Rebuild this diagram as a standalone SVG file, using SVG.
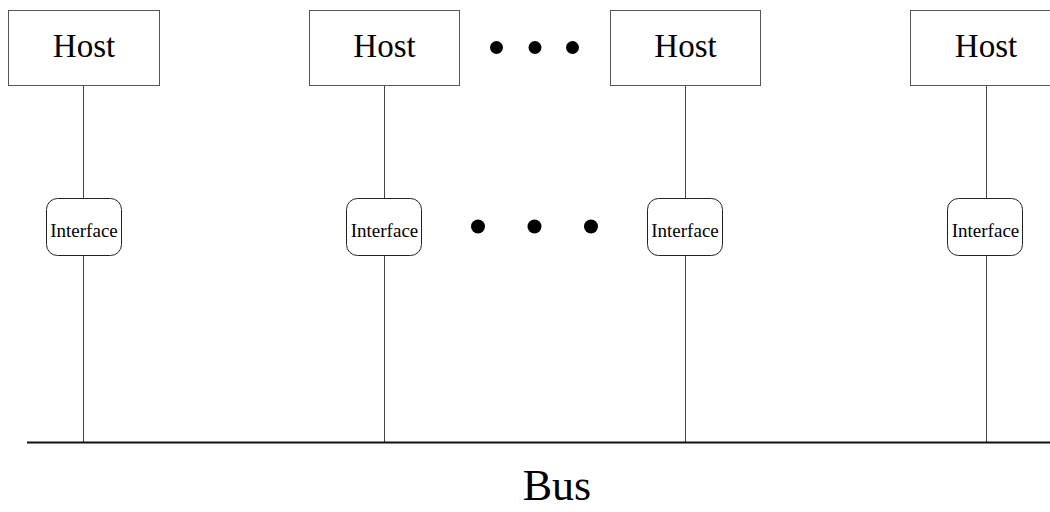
<svg xmlns="http://www.w3.org/2000/svg" width="1050" height="512" viewBox="0 0 1050 512">
<style>
.host{fill:#fff;stroke:#555;stroke-width:1}
.ifc{fill:#fff;stroke:#222;stroke-width:1}
.ht{font-family:"Liberation Serif",serif;font-size:33px;fill:#000;text-anchor:middle}
.it{font-family:"Liberation Serif",serif;font-size:19px;fill:#000;text-anchor:middle}
.ln{stroke:#444;stroke-width:1;fill:none}
</style>
<rect width="1050" height="512" fill="#fff"/>
<g id="connectors">
<line class="ln" x1="83.5" y1="85" x2="83.5" y2="198"/>
<line class="ln" x1="83.5" y1="255" x2="83.5" y2="442"/>
<line class="ln" x1="384.5" y1="85" x2="384.5" y2="198"/>
<line class="ln" x1="384.5" y1="255" x2="384.5" y2="442"/>
<line class="ln" x1="685.5" y1="85" x2="685.5" y2="198"/>
<line class="ln" x1="685.5" y1="255" x2="685.5" y2="442"/>
<line class="ln" x1="986.5" y1="85" x2="986.5" y2="198"/>
<line class="ln" x1="986.5" y1="255" x2="986.5" y2="442"/>
</g>
<g id="bus">
<line x1="27" y1="442.5" x2="1050" y2="442.5" stroke="#111" stroke-width="2"/>
<text x="557" y="500" font-family="Liberation Serif, serif" font-size="44" text-anchor="middle">Bus</text>
</g>
<g id="host1"><rect class="host" x="8.5" y="10.5" width="151" height="75"/><text class="ht" x="84" y="57">Host</text></g>
<g id="host2"><rect class="host" x="309.5" y="10.5" width="150" height="75"/><text class="ht" x="384.5" y="57">Host</text></g>
<g id="host3"><rect class="host" x="610.5" y="10.5" width="150" height="75"/><text class="ht" x="685.5" y="57">Host</text></g>
<g id="host4"><rect class="host" x="910.5" y="10.5" width="151" height="75"/><text class="ht" x="986" y="57">Host</text></g>
<g id="if1"><rect class="ifc" x="46.5" y="198.5" width="75" height="57" rx="11"/><text class="it" x="84" y="237">Interface</text></g>
<g id="if2"><rect class="ifc" x="346.5" y="198.5" width="75" height="57" rx="11"/><text class="it" x="384.5" y="237">Interface</text></g>
<g id="if3"><rect class="ifc" x="647.5" y="198.5" width="75" height="57" rx="11"/><text class="it" x="685" y="237">Interface</text></g>
<g id="if4"><rect class="ifc" x="947.5" y="198.5" width="75" height="57" rx="11"/><text class="it" x="985.5" y="237">Interface</text></g>
<g id="dots-top" fill="#000">
<circle cx="496.5" cy="47.5" r="6.5"/><circle cx="535" cy="47.5" r="6.5"/><circle cx="572.5" cy="47.5" r="6.5"/>
</g>
<g id="dots-mid" fill="#000">
<circle cx="478" cy="226.5" r="7"/><circle cx="534.5" cy="226.5" r="7"/><circle cx="591" cy="226.5" r="7"/>
</g>
</svg>
